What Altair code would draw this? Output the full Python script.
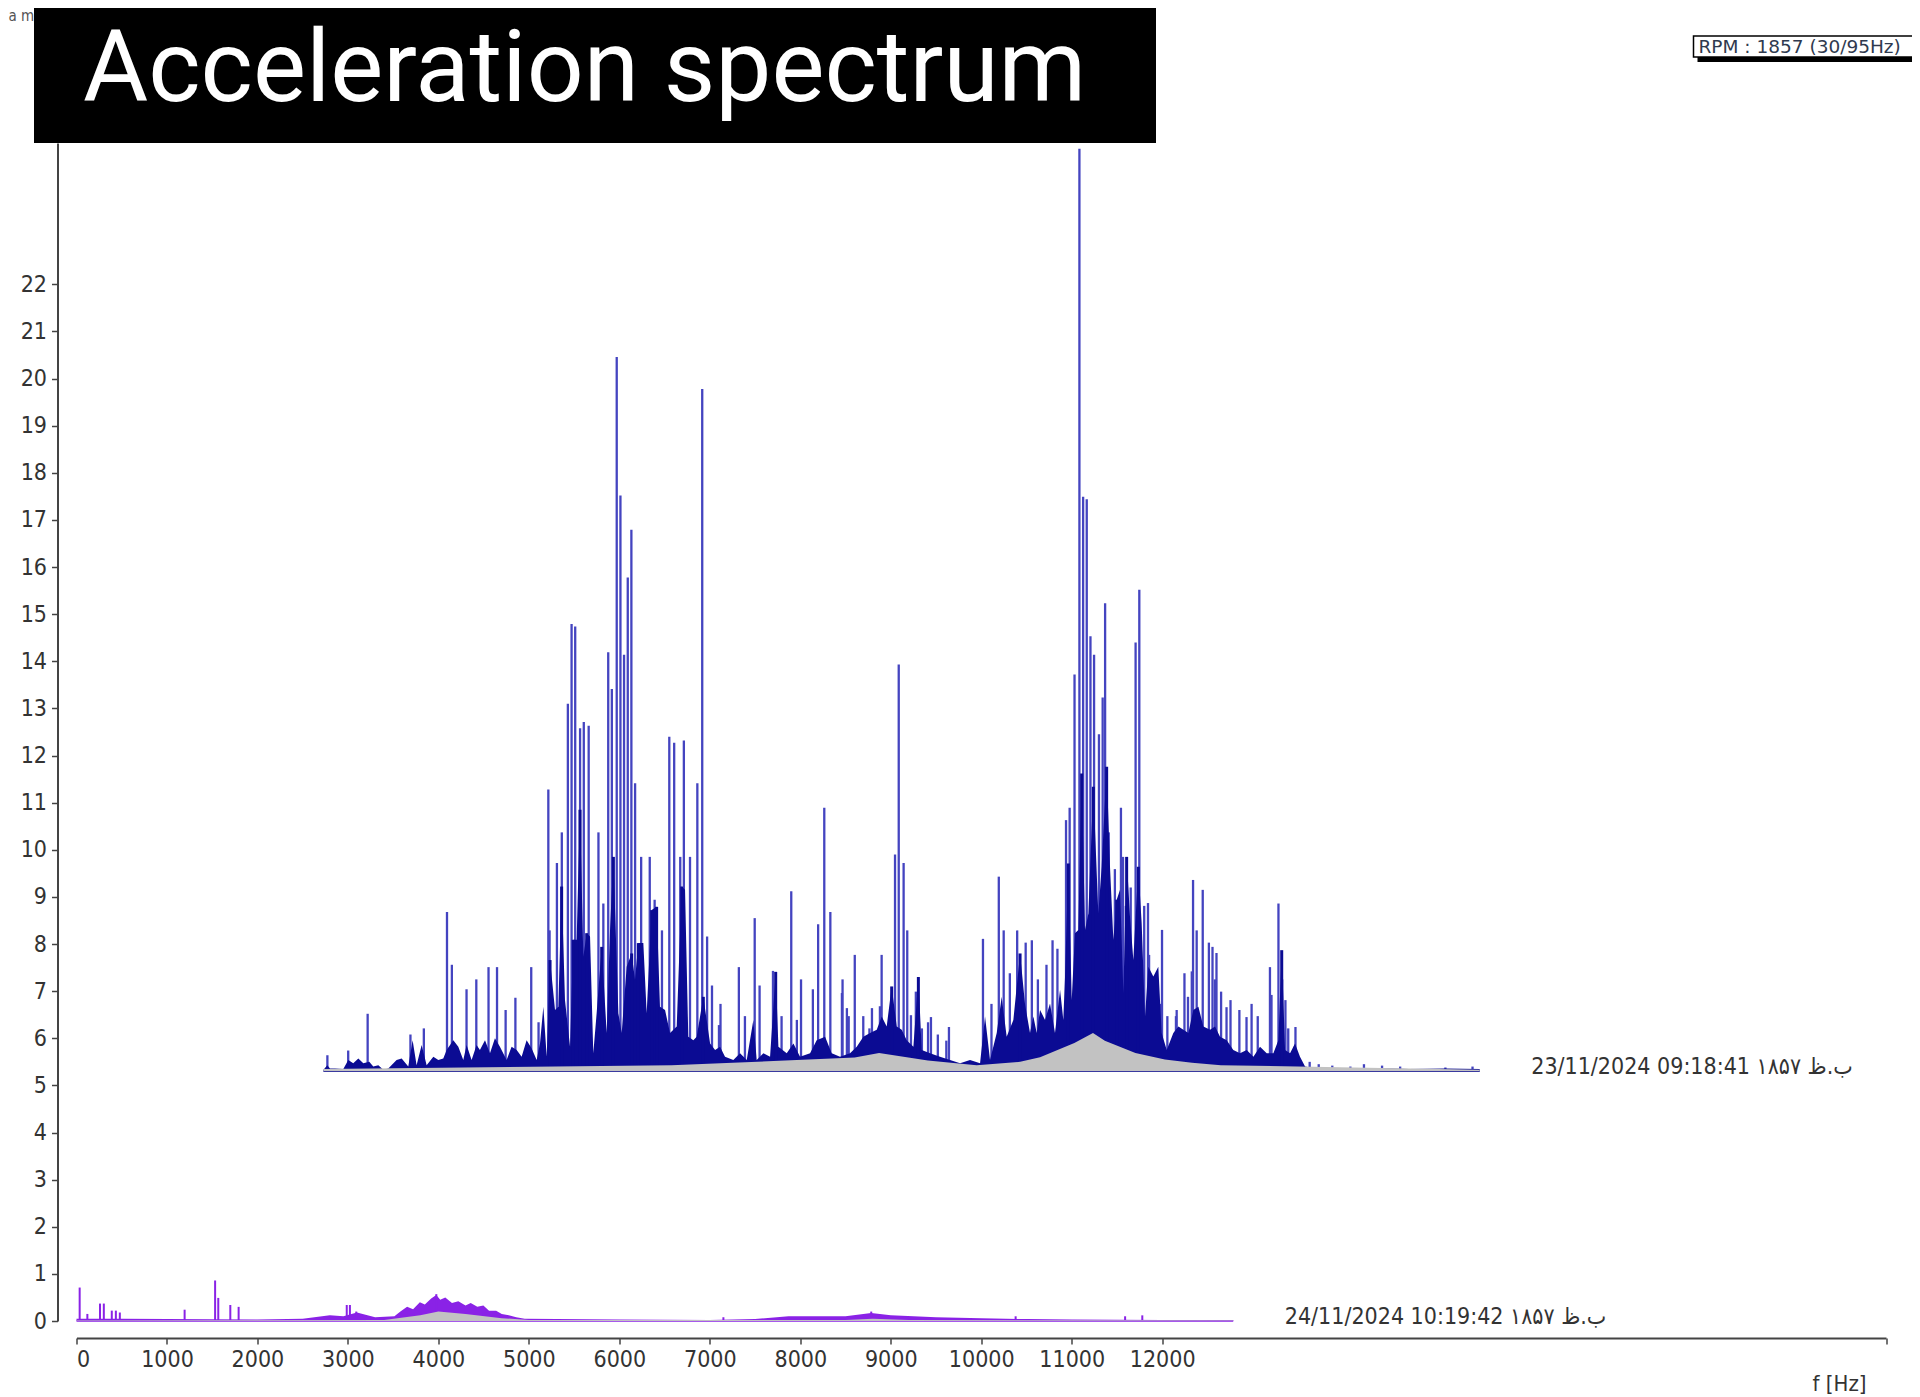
import altair as alt
import pandas as pd

# ---------------- data ----------------
# Spectrum of 23/11/2024 (drawn shifted in the waterfall): own frequency [Hz] and amplitude
blue_peak_hz = [43, 273, 488, 961, 1109, 1365, 1419, 1581, 1689, 1824, 1918, 2013, 2121, 2296, 2377,
                2485, 2499, 2580, 2634, 2701, 2742, 2782, 2836, 2877, 2931, 3039, 3093, 3147, 3187,
                3241, 3282, 3322, 3363, 3403, 3444, 3511, 3606, 3660, 3741, 3822, 3876, 3943, 3983,
                4051, 4132, 4186, 4240, 4294, 4371, 4388, 4591, 4658, 4766, 4820, 4968, 5063, 5170,
                5232, 5278, 5409, 5467, 5535, 5602, 5730, 5737, 5785, 5805, 5872, 5966, 6034, 6062,
                6150, 6169, 6317, 6358, 6412, 6452, 6493, 6547, 6614, 6682, 6714, 6790, 6884, 6913,
                7289, 7383, 7464, 7518, 7586, 7667, 7761, 7829, 7896, 7991, 8058, 8112, 8207, 8247,
                8301, 8355, 8396, 8436, 8477, 8517, 8571, 8612, 8639, 8679, 8747, 8814, 8837, 8868,
                8922, 8976, 9017, 9071, 9113, 9125, 9246, 9268, 9327, 9422, 9430, 9516, 9555, 9597,
                9611, 9651, 9718, 9786, 9826, 9853, 9870, 9921, 9981, 10025, 10123, 10202, 10258,
                10326, 10461, 10478, 10555, 10596, 10632, 10663, 10731, 10743, 10900, 11000, 11150,
                11350, 11500, 11700, 11900, 12400, 12700]
blue_peak_amp = [0.34, 0.44, 1.22, 0.78, 0.91, 3.38, 2.26, 1.74, 1.95, 2.21, 2.21, 1.30, 1.56, 2.21, 1.04,
                 5.98, 2.99, 4.42, 5.07, 7.80, 9.49, 9.44, 7.28, 7.41, 7.33, 5.07, 3.56, 8.89, 8.11,
                 15.16, 12.22, 8.84, 10.48, 11.49, 6.11, 4.55, 4.55, 3.64, 2.99, 7.10, 6.97, 4.55, 7.02,
                 4.55, 6.11, 14.48, 2.86, 1.82, 0.98, 1.43, 2.21, 1.17, 3.25, 1.82, 2.13, 1.17, 3.82,
                 1.09, 1.95, 1.74, 3.12, 5.59, 3.38, 1.66, 1.95, 1.34, 1.17, 2.47, 1.17, 0.91, 1.34,
                 1.38, 2.47, 4.60, 8.63, 4.42, 2.99, 1.19, 1.69, 0.91, 1.04, 1.15, 0.78, 0.65, 0.94,
                 2.81, 1.43, 4.13, 2.99, 2.08, 2.99, 2.73, 2.78, 1.95, 2.26, 2.78, 2.60, 5.33, 5.59,
                 8.42, 19.58, 12.19, 12.14, 9.23, 8.84, 7.15, 7.93, 9.93, 5.07, 4.29, 5.59, 4.55, 3.51,
                 3.90, 9.10, 10.22, 3.51, 3.57, 2.47, 1.43, 3.00, 1.17, 1.17, 1.30, 2.08, 1.58, 2.12,
                 4.06, 2.99, 3.85, 2.73, 2.64, 1.95, 2.51, 1.69, 1.36, 1.51, 1.30, 1.15, 1.43,
                 1.17, 2.21, 1.62, 3.56, 1.95, 1.51, 0.91, 0.52, 0.94, 0.20, 0.15, 0.12,
                 0.10, 0.15, 0.12, 0.10, 0.08, 0.10]
# dark, dense cores of the line clusters
blue_core_hz = [2504, 2632, 2761, 2835, 2909, 3075, 3204, 3406, 3480, 3627, 3682, 3959, 4198,
                4998, 6280, 6575, 7699, 8233, 8380, 8509, 8656, 8767, 8877, 9006, 10591]
blue_core_amp = [2.36, 3.92, 2.79, 5.55, 2.93, 2.64, 4.55, 2.50, 2.72, 3.42, 3.49, 3.92, 1.58,
                 2.11, 1.80, 2.00, 2.50, 4.41, 6.32, 6.04, 6.46, 3.64, 4.55, 4.34, 2.57]
# upper edge of the dense dark mass under the lines
blue_env_hz = [0, 42, 72, 127, 219, 274, 329, 385, 440, 506, 550, 606, 661, 716, 808, 864, 937, 985,
               1029, 1085, 1140, 1214, 1269, 1324, 1361, 1435, 1490, 1545, 1582, 1637, 1692, 1729,
               1785, 1840, 1895, 1950, 2024, 2079, 2135, 2190, 2245, 2300, 2356,
               2393, 2430, 2467, 2504, 2559, 2596, 2632, 2669, 2725, 2761, 2798, 2835, 2872, 2909,
               2946, 2982, 3019, 3075, 3130, 3167, 3204, 3259, 3296, 3351, 3406, 3443, 3480, 3535,
               3572, 3627, 3682, 3719, 3775, 3830, 3904, 3959, 3996, 4032, 4088, 4125, 4198,
               4273, 4328, 4383, 4438, 4530, 4604, 4678, 4751, 4788, 4862, 4936, 4998, 5028, 5120,
               5194, 5267, 5378, 5451, 5544, 5617, 5709, 5820, 5894, 5967, 6041, 6115, 6170, 6225,
               6280, 6336, 6391, 6446, 6520, 6575, 6612, 6704, 6814, 6925, 7036, 7146, 7257, 7312,
               7367, 7441, 7496, 7551, 7625, 7699, 7754,
               7809, 7846, 7883, 7920, 7975, 8030, 8085, 8141, 8177, 8196, 8233, 8270, 8306, 8343,
               8380, 8417, 8454, 8509, 8564, 8601, 8656, 8693, 8730, 8767, 8804, 8841, 8877, 8914,
               8951, 9006, 9043, 9080, 9117, 9172, 9227, 9264,
               9320, 9393, 9449, 9504, 9559, 9614, 9670, 9725, 9799, 9854, 9909, 9983, 10056, 10130,
               10204, 10278, 10351, 10425, 10499, 10554, 10591, 10628, 10683, 10738, 10793, 10849,
               10941, 11200, 11600, 12000, 12400, 12779]
blue_env_amp = [0.03, 0.13, 0.06, 0.06, 0.05, 0.24, 0.17, 0.27, 0.17, 0.20, 0.10, 0.13, 0.03, 0.06, 0.24,
                0.27, 0.10, 0.66, 0.13, 0.56, 0.13, 0.31, 0.24, 0.27, 0.45, 0.66, 0.52, 0.24, 0.56, 0.24,
                0.56, 0.45, 0.66, 0.38, 0.70, 0.52, 0.24, 0.52, 0.45, 0.31, 0.66, 0.49, 0.24,
                0.59, 1.37, 0.31, 2.36, 1.30, 1.37, 3.92, 1.51, 0.52, 2.79, 2.79, 5.55, 2.43, 2.93,
                2.86, 0.38, 1.23, 2.64, 0.81, 3.00, 4.55, 1.23, 0.81, 2.22, 2.50, 1.94, 2.72, 2.72,
                1.23, 3.42, 3.49, 1.37, 1.30, 0.81, 0.95, 3.92, 3.85, 0.73, 0.66, 0.73, 1.58,
                0.59, 0.45, 0.52, 0.31, 0.24, 0.38, 0.24, 1.09, 0.24, 0.38, 0.31, 2.11, 0.52, 0.38,
                0.59, 0.31, 0.38, 0.66, 0.73, 0.38, 0.31, 0.38, 0.52, 0.73, 0.81, 0.88, 1.16, 0.95,
                1.80, 0.95, 0.88, 0.66, 0.52, 2.00, 0.45, 0.38, 0.31, 0.24, 0.17, 0.24, 0.17, 1.16,
                0.24, 0.81, 1.58, 0.73, 1.09, 2.50, 1.42,
                0.81, 1.16, 0.81, 1.30, 1.09, 1.44, 0.81, 1.73, 1.09, 2.01, 4.41, 1.51, 2.93, 3.00,
                6.32, 3.00, 3.35, 6.04, 3.35, 4.34, 6.46, 4.34, 2.79, 3.64, 3.85, 1.66, 4.55, 3.28,
                2.36, 4.34, 3.14, 1.16, 2.22, 2.01, 2.22, 0.81,
                0.45, 0.81, 0.95, 0.88, 0.81, 1.30, 1.37, 0.95, 0.88, 0.95, 0.73, 0.66, 0.45, 0.38,
                0.45, 0.31, 0.52, 0.38, 0.38, 0.66, 2.57, 0.45, 0.38, 0.59, 0.31, 0.10,
                0.07, 0.06, 0.07, 0.05, 0.06, 0.05]
blue_floor_hz = [0, 3847, 4522, 5871, 6141, 6680, 7220, 7700, 7920, 8299, 8505, 8636, 8974, 9300, 9600,
                 9919, 12779]
blue_floor_amp = [0.05, 0.13, 0.18, 0.29, 0.39, 0.23, 0.13, 0.20, 0.30, 0.60, 0.81, 0.65, 0.39, 0.25, 0.18,
                  0.13, 0.03]

# Spectrum of 24/11/2024 (front trace)
purple_peak_hz = [35, 120, 260, 302, 390, 435, 479, 1195, 1532, 1567, 1700, 1792, 2987, 3022, 3092,
                  3977, 7150, 8784, 10380, 11590, 11780]
purple_peak_amp = [0.71, 0.15, 0.37, 0.37, 0.22, 0.22, 0.18, 0.24, 0.86, 0.49, 0.34, 0.30, 0.34, 0.34, 0.20,
                   0.57, 0.08, 0.20, 0.10, 0.10, 0.12]
purple_env_hz = [0, 500, 1000, 2000, 2500, 2800, 2950, 3100, 3300, 3514, 3580, 3654, 3720, 3795, 3850,
                 3920, 3977, 4020, 4076, 4150, 4220, 4300, 4357, 4430, 4497, 4560, 4638, 4700, 4778,
                 4860, 4954, 6000, 7000, 7500, 7870, 8080, 8500, 8784, 9000, 9500, 10000, 10500,
                 11000, 12000, 12785]
purple_env_amp = [0.05, 0.05, 0.04, 0.03, 0.05, 0.12, 0.10, 0.18, 0.08, 0.10, 0.20, 0.30, 0.25, 0.40, 0.35,
                  0.48, 0.55, 0.45, 0.50, 0.38, 0.42, 0.33, 0.38, 0.30, 0.33, 0.22, 0.22, 0.15, 0.12,
                  0.08, 0.05, 0.03, 0.02, 0.04, 0.10, 0.10, 0.10, 0.17, 0.12, 0.08, 0.06, 0.04,
                  0.03, 0.02, 0.02]
purple_floor_hz = [0, 3400, 3800, 4000, 4300, 4700, 5000, 8500, 8800, 9200, 12785]
purple_floor_amp = [0.01, 0.02, 0.12, 0.20, 0.15, 0.06, 0.02, 0.02, 0.05, 0.02, 0.01]

trace_labels = ["23/11/2024 09:18:41 ۱۸۵۷ ب.ظ", "24/11/2024 10:19:42 ۱۸۵۷ ب.ظ"]
x_ticks = [0, 1000, 2000, 3000, 4000, 5000, 6000, 7000, 8000, 9000, 10000, 11000, 12000]
x_axis_end = 20000
y_ticks = list(range(0, 23))

# waterfall shift of the older trace
BLUE_DX, BLUE_DY = 2730, 5.3
LABEL_GAP = 570

# ---------------- tables ----------------
def rules(hz, amp, dx, dy):
    return pd.DataFrame({"x": [h + dx for h in hz], "y": [dy] * len(hz), "y2": [dy + a for a in amp]})

def band(hz, amp, dx, dy):
    return pd.DataFrame({"x": [h + dx for h in hz], "y": [dy + a for a in amp], "y2": [dy] * len(hz)})

blue_rules = rules(blue_peak_hz, blue_peak_amp, BLUE_DX, BLUE_DY)
blue_cores = rules(blue_core_hz, blue_core_amp, BLUE_DX, BLUE_DY)
blue_env = band(blue_env_hz, blue_env_amp, BLUE_DX, BLUE_DY)
blue_floor = band(blue_floor_hz, blue_floor_amp, BLUE_DX, BLUE_DY)
purple_rules = rules(purple_peak_hz, purple_peak_amp, 0, 0)
purple_env = band(purple_env_hz, purple_env_amp, 0, 0)
purple_floor = band(purple_floor_hz, purple_floor_amp, 0, 0)

label_df = pd.DataFrame({
    "x": [blue_env_hz[-1] + BLUE_DX + LABEL_GAP, purple_env_hz[-1] + LABEL_GAP],
    "y": [BLUE_DY + 0.08, 0.08],
    "label": trace_labels,
})
one = pd.DataFrame({"k": [0]})

NARROW = "Liberation Sans Narrow, Noto Sans Condensed, DejaVu Sans Condensed, Arial Narrow, sans-serif"
BLUE_LIGHT = "#4444c0"
BLUE_DARK = "#0b0b93"
PURPLE = "#8a22e6"
GREY = "#c2c2c2"

xscale = alt.Scale(domain=[0, x_axis_end], nice=False, zero=False)
yscale = alt.Scale(domain=[0, 25], nice=False, zero=False)
xaxis = alt.Axis(values=x_ticks + [x_axis_end], format="d",
                 labelExpr="datum.value > 12000 ? '' : datum.label",
                 offset=17, grid=False, tickSize=6, labelPadding=4,
                 title="f [Hz]", titleX=1789.5, titleY=45, titleAlign="right",
                 titleBaseline="middle", titleFont=NARROW, titleFontSize=22,
                 titleFontWeight="normal", titleColor="#333333")
yaxis = alt.Axis(values=y_ticks, offset=19, grid=False, tickSize=6, labelPadding=5, title=None)

X = alt.X("x:Q", scale=xscale, axis=xaxis)
Y = alt.Y("y:Q", scale=yscale, axis=yaxis)
Y2base = alt.Y("y2:Q", scale=yscale, axis=yaxis)

l_blue_rules = alt.Chart(blue_rules).mark_rule(color=BLUE_LIGHT, strokeWidth=2.3).encode(x=X, y=Y, y2="y2:Q")
l_blue_env = alt.Chart(blue_env).mark_area(color=BLUE_DARK, opacity=1).encode(x=X, y=Y, y2="y2:Q")
l_blue_cores = alt.Chart(blue_cores).mark_rule(color=BLUE_DARK, strokeWidth=3).encode(x=X, y=Y, y2="y2:Q")
l_blue_floor = alt.Chart(blue_floor).mark_area(color=GREY, opacity=1).encode(x=X, y=Y, y2="y2:Q")
l_blue_base = alt.Chart(blue_env).mark_line(color=BLUE_DARK, strokeWidth=1.5).encode(x=X, y=Y2base)

l_pur_env = alt.Chart(purple_env).mark_area(color=PURPLE, opacity=1).encode(x=X, y=Y, y2="y2:Q")
l_pur_rules = alt.Chart(purple_rules).mark_rule(color=PURPLE, strokeWidth=2).encode(x=X, y=Y, y2="y2:Q")
l_pur_floor = alt.Chart(purple_floor).mark_area(color=GREY, opacity=1).encode(x=X, y=Y, y2="y2:Q")
l_pur_base = alt.Chart(purple_env).mark_line(color=PURPLE, strokeWidth=1.5).encode(x=X, y=Y2base)

l_labels = alt.Chart(label_df).mark_text(font=NARROW, fontSize=23, color="#333333",
                                         align="left", baseline="middle").encode(x=X, y=Y, text="label:N")

# decorations (caption box, unit stub, RPM box)
l_unit = alt.Chart(one).mark_text(font=NARROW, fontSize=15, color="#555555", align="left",
                                  baseline="middle").encode(x=alt.value(-68), y=alt.value(-127),
                                                            text=alt.value("a m/s²"))
l_box = alt.Chart(one).mark_rect(color="black").encode(x=alt.value(-42.5), x2=alt.value(1079.5),
                                                      y=alt.value(-135), y2=alt.value(0))
l_title = alt.Chart(one).mark_text(font="Roboto", fontSize=100, color="white", align="left",
                                   baseline="alphabetic").encode(x=alt.value(6.5), y=alt.value(-42),
                                                                 text=alt.value("Acceleration spectrum"))
l_rpm_shadow = alt.Chart(one).mark_rect(color="black").encode(x=alt.value(1621), x2=alt.value(1845),
                                                             y=alt.value(-103), y2=alt.value(-81))
l_rpm_box = alt.Chart(one).mark_rect(fill="white", stroke="black", strokeWidth=1.5).encode(
    x=alt.value(1617), x2=alt.value(1840), y=alt.value(-107), y2=alt.value(-86))
l_rpm_text = alt.Chart(one).mark_text(font="DejaVu Sans, sans-serif", fontSize=18.5,
                                      color="#2f3a4f", align="left", baseline="alphabetic").encode(
    x=alt.value(1622), y=alt.value(-90), text=alt.value("RPM : 1857 (30/95Hz)"))

chart = alt.layer(
    l_blue_rules, l_blue_env, l_blue_cores, l_blue_base, l_blue_floor,
    l_pur_env, l_pur_rules, l_pur_base, l_pur_floor,
    l_labels, l_unit, l_box, l_title, l_rpm_shadow, l_rpm_box, l_rpm_text,
).properties(
    width=1809.5, height=1178,
    autosize=alt.AutoSizeParams(type="none"),
    padding={"left": 68.5, "top": 135, "right": 26, "bottom": 76},
    background="white",
).configure_view(stroke=None).configure_axis(
    labelFont=NARROW, labelFontSize=23, labelColor="#333333",
    domainColor="#444444", domainWidth=2, tickColor="#444444", tickWidth=1.5,
)

chart.save("out.html", embed_options={"renderer": "svg", "actions": False})
